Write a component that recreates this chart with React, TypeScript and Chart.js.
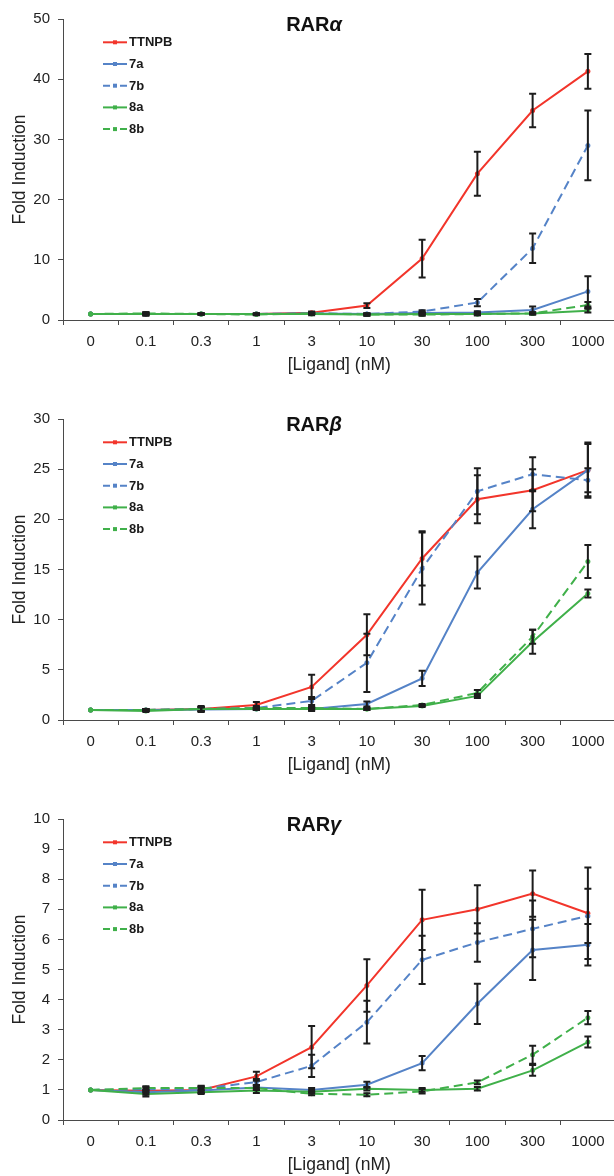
import React, { useEffect, useRef } from 'react';
import { Chart, registerables } from 'chart.js';

Chart.register(...registerables);

const FONT = "'Liberation Sans', Arial, sans-serif";

const categories = ['0', '0.1', '0.3', '1', '3', '10', '30', '100', '300', '1000'];
const seriesNames = ['TTNPB', '7a', '7b', '8a', '8b'];
const seriesColors = ['#f2352b', '#5583c7', '#5583c7', '#40b04a', '#40b04a'];
const seriesDashed = [false, false, true, false, true];

// RAR alpha
const alphaTTNPB = [1.0, 1.0, 1.0, 1.0, 1.2, 2.4, 10.2, 24.3, 34.8, 41.3];
const alphaTTNPBErr = [0, 0.2, 0.1, 0.1, 0.2, 0.4, 3.15, 3.65, 2.8, 2.9];
const alpha7a = [1.0, 1.0, 1.0, 1.0, 1.1, 1.0, 1.15, 1.25, 1.65, 4.75];
const alpha7aErr = [0, 0.1, 0.1, 0.1, 0.1, 0.1, 0.2, 0.2, 0.6, 2.5];
const alpha7b = [1.0, 1.0, 1.0, 1.0, 1.1, 1.0, 1.4, 2.9, 11.9, 29.0];
const alpha7bErr = [0, 0.1, 0.1, 0.1, 0.1, 0.1, 0.2, 0.6, 2.45, 5.8];
const alpha8a = [1.0, 1.0, 1.0, 1.0, 1.0, 0.9, 1.0, 1.0, 1.1, 1.55];
const alpha8aErr = [0, 0.3, 0.1, 0.1, 0.2, 0.2, 0.2, 0.2, 0.2, 0.3];
const alpha8b = [1.0, 1.1, 1.0, 0.9, 1.1, 0.9, 0.9, 1.0, 1.1, 2.5];
const alpha8bErr = [0, 0.2, 0.1, 0.1, 0.1, 0.2, 0.2, 0.2, 0.2, 0.5];

// RAR beta
const betaTTNPB = [1.0, 1.0, 1.1, 1.5, 3.3, 8.5, 16.1, 22.0, 22.9, 24.9];
const betaTTNPBErr = [0, 0.1, 0.3, 0.3, 1.2, 2.05, 2.7, 2.4, 2.1, 2.75];
const beta7a = [1.0, 1.0, 1.05, 1.1, 1.1, 1.6, 4.15, 14.7, 21.0, 24.9];
const beta7aErr = [0, 0.1, 0.2, 0.1, 0.2, 0.25, 0.75, 1.6, 1.9, 2.6];
const beta7b = [1.0, 1.0, 1.1, 1.2, 1.9, 5.7, 15.1, 22.8, 24.5, 23.9];
const beta7bErr = [0, 0.1, 0.2, 0.2, 0.4, 2.9, 3.6, 2.3, 1.7, 1.2];
const beta8a = [1.0, 0.9, 1.1, 1.1, 1.1, 1.1, 1.4, 2.4, 7.8, 12.6];
const beta8aErr = [0, 0.1, 0.2, 0.1, 0.1, 0.1, 0.1, 0.2, 1.2, 0.4];
const beta8b = [1.0, 1.0, 1.1, 1.2, 1.2, 1.1, 1.5, 2.7, 8.3, 15.8];
const beta8bErr = [0, 0.1, 0.2, 0.1, 0.1, 0.1, 0.1, 0.3, 0.7, 1.65];

// RAR gamma
const gammaTTNPB = [1.0, 0.97, 1.0, 1.45, 2.42, 4.47, 6.65, 7.0, 7.52, 6.87];
const gammaTTNPBErr = [0, 0.08, 0.1, 0.15, 0.7, 0.87, 1.0, 0.8, 0.77, 1.52];
const gamma7a = [1.0, 0.92, 0.98, 1.08, 1.0, 1.17, 1.89, 3.86, 5.65, 5.82];
const gamma7aErr = [0, 0.08, 0.08, 0.08, 0.06, 0.1, 0.24, 0.67, 1.0, 0.69];
const gamma7b = [1.0, 1.02, 1.04, 1.26, 1.8, 3.25, 5.32, 5.9, 6.35, 6.78];
const gamma7bErr = [0, 0.08, 0.1, 0.1, 0.37, 0.71, 0.8, 0.64, 0.94, 0.9];
const gamma8a = [1.0, 0.86, 0.92, 0.98, 0.94, 1.04, 1.0, 1.04, 1.65, 2.59];
const gamma8aErr = [0, 0.08, 0.06, 0.08, 0.06, 0.06, 0.06, 0.06, 0.18, 0.18];
const gamma8b = [1.0, 1.06, 1.06, 1.06, 0.87, 0.84, 0.95, 1.25, 2.17, 3.4];
const gamma8bErr = [0, 0.06, 0.06, 0.06, 0.05, 0.05, 0.07, 0.06, 0.3, 0.22];

const yTicksAlpha = { max: 50, step: 10 };
const yTicksBeta = { max: 30, step: 5 };
const yTicksGamma = { max: 10, step: 1 };

type Panel = {
  name: string;
  greek: string;
  max: number;
  step: number;
  values: number[][];
  errors: number[][];
};

const panels: Panel[] = [
  {
    name: 'RAR', greek: 'α', max: yTicksAlpha.max, step: yTicksAlpha.step,
    values: [alphaTTNPB, alpha7a, alpha7b, alpha8a, alpha8b],
    errors: [alphaTTNPBErr, alpha7aErr, alpha7bErr, alpha8aErr, alpha8bErr],
  },
  {
    name: 'RAR', greek: 'β', max: yTicksBeta.max, step: yTicksBeta.step,
    values: [betaTTNPB, beta7a, beta7b, beta8a, beta8b],
    errors: [betaTTNPBErr, beta7aErr, beta7bErr, beta8aErr, beta8bErr],
  },
  {
    name: 'RAR', greek: 'γ', max: yTicksGamma.max, step: yTicksGamma.step,
    values: [gammaTTNPB, gamma7a, gamma7b, gamma8a, gamma8b],
    errors: [gammaTTNPBErr, gamma7aErr, gamma7bErr, gamma8aErr, gamma8bErr],
  },
];

const CANVAS_W = 618;
const CANVAS_H = 400;

function PanelChart({ panel }: { panel: Panel }) {
  const ref = useRef<HTMLCanvasElement | null>(null);

  useEffect(() => {
    if (!ref.current) return;

    const errorBars = {
      id: 'errorBars',
      afterDatasetsDraw(chart: any) {
        const ctx = chart.ctx;
        const xs = chart.scales.x;
        const ys = chart.scales.y;
        ctx.save();
        ctx.strokeStyle = '#1c1c1c';
        ctx.lineWidth = 2;
        ctx.setLineDash([]);
        panel.values.forEach((vals, si) => {
          const errs = panel.errors[si];
          vals.forEach((v, i) => {
            const e = errs[i];
            if (!e) return;
            const x = xs.getPixelForValue(i);
            const yt = ys.getPixelForValue(v + e);
            const yb = ys.getPixelForValue(v - e);
            ctx.beginPath();
            ctx.moveTo(x, yt);
            ctx.lineTo(x, yb);
            ctx.moveTo(x - 3.5, yt);
            ctx.lineTo(x + 3.5, yt);
            ctx.moveTo(x - 3.5, yb);
            ctx.lineTo(x + 3.5, yb);
            ctx.stroke();
          });
        });
        ctx.restore();
      },
    };

    const overlay = {
      id: 'overlay',
      afterDraw(chart: any) {
        const ctx = chart.ctx;
        const top = chart.chartArea.top;
        ctx.save();
        // title
        const f1 = `bold 20px ${FONT}`;
        const f2 = `italic bold 20px ${FONT}`;
        ctx.font = f1;
        const w1 = ctx.measureText(panel.name).width;
        ctx.font = f2;
        const w2 = ctx.measureText(panel.greek).width;
        const startX = 314 - (w1 + w2) / 2;
        const baseY = top + 12;
        ctx.fillStyle = '#111';
        ctx.textBaseline = 'alphabetic';
        ctx.textAlign = 'left';
        ctx.font = f1;
        ctx.fillText(panel.name, startX, baseY);
        ctx.font = f2;
        ctx.fillText(panel.greek, startX + w1, baseY);

        // legend
        ctx.font = `bold 13px ${FONT}`;
        ctx.textBaseline = 'middle';
        seriesNames.forEach((n, i) => {
          const y = top + 23.3 + 21.7 * i;
          ctx.strokeStyle = seriesColors[i];
          ctx.fillStyle = seriesColors[i];
          ctx.lineWidth = 2;
          ctx.beginPath();
          if (seriesDashed[i]) {
            ctx.moveTo(103, y);
            ctx.lineTo(110, y);
            ctx.moveTo(120, y);
            ctx.lineTo(127, y);
          } else {
            ctx.moveTo(103, y);
            ctx.lineTo(127, y);
          }
          ctx.stroke();
          ctx.fillRect(113, y - 2, 4, 4);
          ctx.fillStyle = '#1a1a1a';
          ctx.fillText(n, 129, y + 0.5);
        });
        ctx.restore();
      },
    };

    const datasets = panel.values.map((vals, i) => ({
      label: seriesNames[i],
      data: vals,
      borderColor: seriesColors[i],
      backgroundColor: seriesColors[i],
      borderWidth: 2,
      borderDash: seriesDashed[i] ? [9, 5] : [],
      pointRadius: 2.5,
      pointHoverRadius: 2.5,
      pointBorderWidth: 0,
      pointBackgroundColor: seriesColors[i],
      tension: 0,
      fill: false,
      order: -i,
    }));

    const chart = new Chart(ref.current, {
      type: 'line',
      data: { labels: categories, datasets },
      options: {
        animation: false,
        responsive: false,
        devicePixelRatio: 1,
        events: [],
        layout: { padding: { top: 39, left: 0, right: 0, bottom: 0 } },
        plugins: {
          legend: { display: false },
          title: { display: false },
          tooltip: { enabled: false },
        },
        scales: {
          x: {
            type: 'category',
            offset: true,
            grid: {
              display: true,
              drawOnChartArea: false,
              drawTicks: true,
              tickLength: 5,
              offset: true,
              color: '#4a4a4a',
              lineWidth: 1,
            },
            border: { display: true, color: '#4a4a4a', width: 1 },
            ticks: {
              color: '#222',
              font: { family: FONT, size: 15 },
              padding: 8,
              maxRotation: 0,
              autoSkip: false,
            },
            title: {
              display: true,
              text: '[Ligand] (nM)',
              color: '#222',
              font: { family: FONT, size: 17.5 },
              padding: { top: 0, bottom: 4.5 },
            },
            afterFit: (s: any) => {
              s.height = 60;
            },
          },
          y: {
            min: 0,
            max: panel.max,
            grid: {
              display: true,
              drawOnChartArea: false,
              drawTicks: true,
              tickLength: 5,
              color: '#4a4a4a',
              lineWidth: 1,
            },
            border: { display: true, color: '#4a4a4a', width: 1 },
            ticks: {
              stepSize: panel.step,
              color: '#222',
              font: { family: FONT, size: 15 },
              padding: 8,
            },
            title: {
              display: true,
              text: 'Fold Induction',
              color: '#222',
              font: { family: FONT, size: 17.5 },
              padding: { top: 9.5, bottom: 0 },
            },
            afterFit: (s: any) => {
              s.width = 63;
            },
          },
        },
      } as any,
      plugins: [errorBars, overlay],
    });

    return () => {
      chart.destroy();
    };
  }, [panel]);

  return (
    <canvas
      ref={ref}
      width={CANVAS_W}
      height={CANVAS_H}
      style={{ display: 'block', width: CANVAS_W, height: CANVAS_H }}
    />
  );
}

export default function App() {
  return (
    <div
      style={{
        position: 'absolute',
        left: 0,
        top: 0,
        width: 614,
        height: 1176,
        overflow: 'hidden',
        background: '#fff',
      }}
    >
      <div style={{ position: 'absolute', left: 0, top: -20, width: CANVAS_W }}>
        {panels.map((p, i) => (
          <PanelChart key={i} panel={p} />
        ))}
      </div>
    </div>
  );
}
